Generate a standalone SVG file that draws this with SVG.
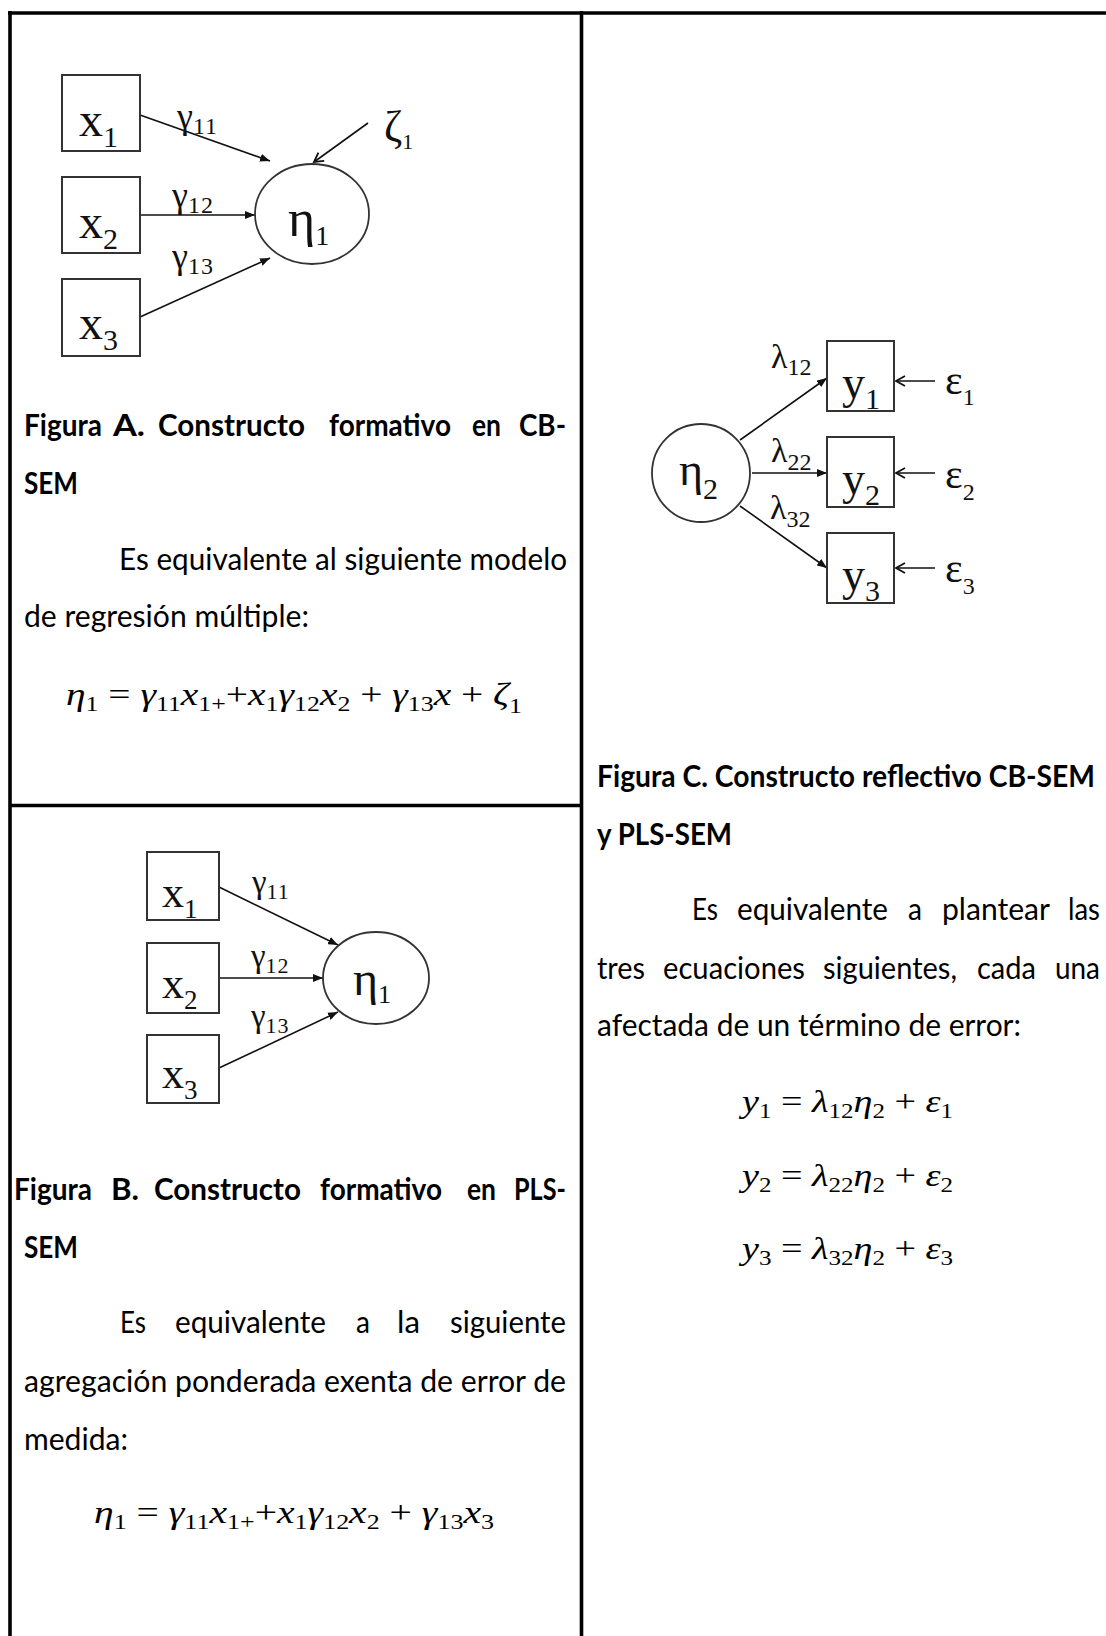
<svg xmlns="http://www.w3.org/2000/svg" width="1106" height="1636" viewBox="0 0 1106 1636">
<style>
.t{font-family:Lato,"Open Sans",sans-serif;font-size:31px;fill:#000}
.b{font-weight:bold}
.m{font-family:"Liberation Serif",serif;font-style:italic;font-size:32px;fill:#000}
.s{font-style:normal;font-size:21px}
.op{font-style:normal}
.d{font-family:"Liberation Serif",serif;fill:#111}
.box{fill:#fff;stroke:#333;stroke-width:2}
.lat{fill:#fff;stroke:#333;stroke-width:1.8}
.edge{stroke:#111;stroke-width:1.6;fill:none}
.grid{stroke:#000;stroke-width:3.6;fill:none}
</style>
<defs>
<marker id="tri" markerUnits="userSpaceOnUse" markerWidth="10" markerHeight="8" refX="10" refY="4" orient="auto"><path d="M0,0 L10,4 L0,8 z" fill="#111"/></marker>
<marker id="chev" markerUnits="userSpaceOnUse" markerWidth="12" markerHeight="12" refX="10" refY="6" orient="auto"><path d="M1,1 L10,6 L1,11" fill="none" stroke="#111" stroke-width="1.8"/></marker>
</defs>
<rect x="0" y="0" width="1106" height="1636" fill="#fff"/>
<g id="table">
<line class="grid" x1="8" y1="13" x2="1106" y2="13"/>
<line class="grid" x1="10" y1="11" x2="10" y2="1636"/>
<line class="grid" x1="581.5" y1="11" x2="581.5" y2="1636"/>
<line class="grid" x1="10" y1="805.5" x2="581.5" y2="805.5"/>
</g>
<g id="connectors">
<line class="edge" x1="140" y1="115" x2="270" y2="161" marker-end="url(#tri)"/>
<line class="edge" x1="140" y1="215" x2="255" y2="215" marker-end="url(#tri)"/>
<line class="edge" x1="140" y1="317" x2="270" y2="258" marker-end="url(#tri)"/>
<line class="edge" x1="368" y1="123" x2="314" y2="162" marker-end="url(#chev)"/>
<line class="edge" x1="219" y1="887" x2="338" y2="945" marker-end="url(#tri)"/>
<line class="edge" x1="219" y1="978" x2="323" y2="978" marker-end="url(#tri)"/>
<line class="edge" x1="219" y1="1068" x2="338" y2="1012" marker-end="url(#tri)"/>
<line class="edge" x1="740" y1="440" x2="827" y2="378" marker-end="url(#tri)"/>
<line class="edge" x1="752" y1="473" x2="827" y2="473" marker-end="url(#tri)"/>
<line class="edge" x1="740" y1="506" x2="827" y2="568" marker-end="url(#tri)"/>
<line class="edge" x1="935" y1="381" x2="896" y2="381" marker-end="url(#chev)"/>
<line class="edge" x1="935" y1="473" x2="896" y2="473" marker-end="url(#chev)"/>
<line class="edge" x1="935" y1="568" x2="896" y2="568" marker-end="url(#chev)"/>
<text class="d" x="177" y="128" font-size="36">γ<tspan font-size="24" dy="6" letter-spacing="1">11</tspan></text>
<text class="d" x="172" y="207" font-size="36">γ<tspan font-size="24" dy="6" letter-spacing="1">12</tspan></text>
<text class="d" x="172" y="268" font-size="36">γ<tspan font-size="24" dy="6" letter-spacing="1">13</tspan></text>
<text class="d" x="252" y="893" font-size="33">γ<tspan font-size="22" dy="6" letter-spacing="1">11</tspan></text>
<text class="d" x="251" y="967" font-size="33">γ<tspan font-size="22" dy="6" letter-spacing="1">12</tspan></text>
<text class="d" x="251" y="1027" font-size="33">γ<tspan font-size="22" dy="6" letter-spacing="1">13</tspan></text>
<text class="d" x="771" y="368" font-size="34">λ<tspan font-size="24" dy="7">12</tspan></text>
<text class="d" x="771" y="462" font-size="34">λ<tspan font-size="24" dy="8">22</tspan></text>
<text class="d" x="770" y="519" font-size="34">λ<tspan font-size="24" dy="8">32</tspan></text>
</g>
<g id="fig-a">
<g id="a-x1"><rect class="box" x="62" y="75" width="78" height="76"/><text class="d" x="79" y="136" font-size="48">x<tspan font-size="30" dy="11">1</tspan></text></g>
<g id="a-x2"><rect class="box" x="62" y="177" width="78" height="76"/><text class="d" x="79" y="238" font-size="48">x<tspan font-size="30" dy="11">2</tspan></text></g>
<g id="a-x3"><rect class="box" x="62" y="279" width="78" height="77"/><text class="d" x="79" y="339" font-size="48">x<tspan font-size="30" dy="11">3</tspan></text></g>
<g id="a-eta1"><ellipse class="lat" cx="312" cy="214" rx="57" ry="50"/><text class="d" x="288" y="236" font-size="52">η<tspan font-size="28" dy="9">1</tspan></text></g>
<g id="a-zeta1"><text class="d" x="384" y="141" font-size="44">ζ<tspan font-size="22" dy="8">1</tspan></text></g>
</g>
<g id="fig-b">
<g id="b-x1"><rect class="box" x="147" y="852" width="72" height="68"/><text class="d" x="162" y="907" font-size="44">x<tspan font-size="27" dy="11">1</tspan></text></g>
<g id="b-x2"><rect class="box" x="147" y="943" width="72" height="70"/><text class="d" x="162" y="998" font-size="44">x<tspan font-size="27" dy="11">2</tspan></text></g>
<g id="b-x3"><rect class="box" x="147" y="1035" width="72" height="68"/><text class="d" x="162" y="1088" font-size="44">x<tspan font-size="27" dy="11">3</tspan></text></g>
<g id="b-eta1"><ellipse class="lat" cx="376" cy="978" rx="53" ry="46"/><text class="d" x="353" y="995" font-size="48">η<tspan font-size="26" dy="8">1</tspan></text></g>
</g>
<g id="fig-c">
<g id="c-eta2"><ellipse class="lat" cx="701" cy="473" rx="49" ry="49"/><text class="d" x="679" y="485" font-size="46">η<tspan font-size="30" dy="14">2</tspan></text></g>
<g id="c-y1"><rect class="box" x="827" y="341" width="67" height="70"/><text class="d" x="842" y="398" font-size="46">y<tspan font-size="30" dy="11">1</tspan></text></g>
<g id="c-y2"><rect class="box" x="827" y="437" width="67" height="70"/><text class="d" x="842" y="494" font-size="46">y<tspan font-size="30" dy="11">2</tspan></text></g>
<g id="c-y3"><rect class="box" x="827" y="533" width="67" height="70"/><text class="d" x="842" y="590" font-size="46">y<tspan font-size="30" dy="11">3</tspan></text></g>
<g id="c-e1"><text class="d" x="945" y="394" font-size="42">ε<tspan font-size="24" dy="11">1</tspan></text></g>
<g id="c-e2"><text class="d" x="945" y="488" font-size="42">ε<tspan font-size="24" dy="12">2</tspan></text></g>
<g id="c-e3"><text class="d" x="945" y="582" font-size="42">ε<tspan font-size="24" dy="12">3</tspan></text></g>
</g>
<g id="text-a">
<text class="t b" y="436"><tspan x="24" textLength="78" lengthAdjust="spacingAndGlyphs">Figura</tspan><tspan x="113" textLength="32" lengthAdjust="spacingAndGlyphs">A.</tspan><tspan x="158" textLength="147" lengthAdjust="spacingAndGlyphs">Constructo</tspan><tspan x="329" textLength="122" lengthAdjust="spacingAndGlyphs">formativo</tspan><tspan x="472" textLength="29" lengthAdjust="spacingAndGlyphs">en</tspan><tspan x="519" textLength="47" lengthAdjust="spacingAndGlyphs">CB-</tspan></text>
<text class="t b" x="24" y="494" textLength="54" lengthAdjust="spacingAndGlyphs">SEM</text>
<text class="t" x="119" y="570" textLength="448" lengthAdjust="spacingAndGlyphs">Es equivalente al siguiente modelo</text>
<text class="t" x="24" y="627" textLength="285" lengthAdjust="spacingAndGlyphs">de regresión múltiple:</text>
<text class="m" x="66" y="705" textLength="456" lengthAdjust="spacingAndGlyphs">η<tspan class="s" dy="6">1</tspan><tspan class="op" dy="-6"> = </tspan>γ<tspan class="s" dy="6">11</tspan><tspan dy="-6">x</tspan><tspan class="s" dy="6">1+</tspan><tspan class="op" dy="-6">+</tspan>x<tspan class="s" dy="6">1</tspan><tspan dy="-6">γ</tspan><tspan class="s" dy="6">12</tspan><tspan dy="-6">x</tspan><tspan class="s" dy="6">2</tspan><tspan class="op" dy="-6"> + </tspan>γ<tspan class="s" dy="6">13</tspan><tspan dy="-6">x</tspan><tspan class="op"> + </tspan>ζ<tspan class="s" dy="8">1</tspan></text>
</g>
<g id="text-b">
<text class="t b" y="1200"><tspan x="14" textLength="78" lengthAdjust="spacingAndGlyphs">Figura</tspan><tspan x="111" textLength="28" lengthAdjust="spacingAndGlyphs">B.</tspan><tspan x="154" textLength="147" lengthAdjust="spacingAndGlyphs">Constructo</tspan><tspan x="320" textLength="122" lengthAdjust="spacingAndGlyphs">formativo</tspan><tspan x="467" textLength="29" lengthAdjust="spacingAndGlyphs">en</tspan><tspan x="514" textLength="52" lengthAdjust="spacingAndGlyphs">PLS-</tspan></text>
<text class="t b" x="24" y="1258" textLength="54" lengthAdjust="spacingAndGlyphs">SEM</text>
<text class="t" y="1333"><tspan x="120" textLength="26" lengthAdjust="spacingAndGlyphs">Es</tspan><tspan x="175" textLength="151" lengthAdjust="spacingAndGlyphs">equivalente</tspan><tspan x="356" textLength="14" lengthAdjust="spacingAndGlyphs">a</tspan><tspan x="397" textLength="23" lengthAdjust="spacingAndGlyphs">la</tspan><tspan x="450" textLength="116" lengthAdjust="spacingAndGlyphs">siguiente</tspan></text>
<text class="t" x="24" y="1392" textLength="542" lengthAdjust="spacingAndGlyphs">agregación ponderada exenta de error de</text>
<text class="t" x="24" y="1450" textLength="104" lengthAdjust="spacingAndGlyphs">medida:</text>
<text class="m" x="94" y="1523" textLength="400" lengthAdjust="spacingAndGlyphs">η<tspan class="s" dy="6">1</tspan><tspan class="op" dy="-6"> = </tspan>γ<tspan class="s" dy="6">11</tspan><tspan dy="-6">x</tspan><tspan class="s" dy="6">1+</tspan><tspan class="op" dy="-6">+</tspan>x<tspan class="s" dy="6">1</tspan><tspan dy="-6">γ</tspan><tspan class="s" dy="6">12</tspan><tspan dy="-6">x</tspan><tspan class="s" dy="6">2</tspan><tspan class="op" dy="-6"> + </tspan>γ<tspan class="s" dy="6">13</tspan><tspan dy="-6">x</tspan><tspan class="s" dy="6">3</tspan></text>
</g>
<g id="text-c">
<text class="t b" x="597" y="787" textLength="498" lengthAdjust="spacingAndGlyphs">Figura C. Constructo reflectivo CB-SEM</text>
<text class="t b" x="597" y="845" textLength="135" lengthAdjust="spacingAndGlyphs">y PLS-SEM</text>
<text class="t" y="920"><tspan x="692" textLength="26" lengthAdjust="spacingAndGlyphs">Es</tspan><tspan x="737" textLength="151" lengthAdjust="spacingAndGlyphs">equivalente</tspan><tspan x="908" textLength="14" lengthAdjust="spacingAndGlyphs">a</tspan><tspan x="942" textLength="108" lengthAdjust="spacingAndGlyphs">plantear</tspan><tspan x="1068" textLength="32" lengthAdjust="spacingAndGlyphs">las</tspan></text>
<text class="t" y="979"><tspan x="597" textLength="48" lengthAdjust="spacingAndGlyphs">tres</tspan><tspan x="663" textLength="142" lengthAdjust="spacingAndGlyphs">ecuaciones</tspan><tspan x="823" textLength="134" lengthAdjust="spacingAndGlyphs">siguientes,</tspan><tspan x="977" textLength="59" lengthAdjust="spacingAndGlyphs">cada</tspan><tspan x="1055" textLength="45" lengthAdjust="spacingAndGlyphs">una</tspan></text>
<text class="t" x="597" y="1036" textLength="424" lengthAdjust="spacingAndGlyphs">afectada de un término de error:</text>
<text class="m" x="742" y="1112" textLength="211" lengthAdjust="spacingAndGlyphs">y<tspan class="s" dy="6">1</tspan><tspan class="op" dy="-6"> = </tspan>λ<tspan class="s" dy="6">12</tspan><tspan dy="-6">η</tspan><tspan class="s" dy="6">2</tspan><tspan class="op" dy="-6"> + </tspan>ε<tspan class="s" dy="6">1</tspan></text>
<text class="m" x="742" y="1186" textLength="211" lengthAdjust="spacingAndGlyphs">y<tspan class="s" dy="6">2</tspan><tspan class="op" dy="-6"> = </tspan>λ<tspan class="s" dy="6">22</tspan><tspan dy="-6">η</tspan><tspan class="s" dy="6">2</tspan><tspan class="op" dy="-6"> + </tspan>ε<tspan class="s" dy="6">2</tspan></text>
<text class="m" x="742" y="1259" textLength="211" lengthAdjust="spacingAndGlyphs">y<tspan class="s" dy="6">3</tspan><tspan class="op" dy="-6"> = </tspan>λ<tspan class="s" dy="6">32</tspan><tspan dy="-6">η</tspan><tspan class="s" dy="6">2</tspan><tspan class="op" dy="-6"> + </tspan>ε<tspan class="s" dy="6">3</tspan></text>
</g>
</svg>
